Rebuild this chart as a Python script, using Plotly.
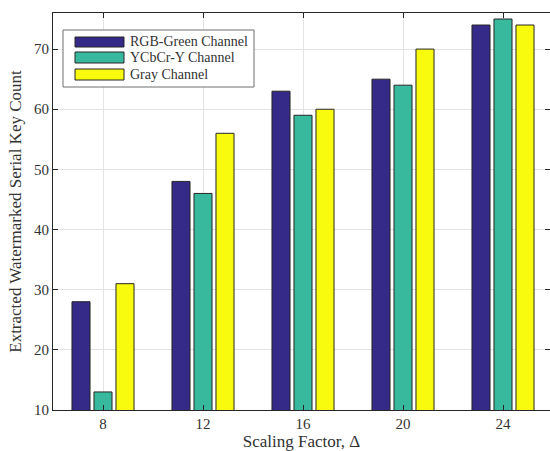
import plotly.graph_objects as go

# Data
scaling_factors = ["8", "12", "16", "20", "24"]
series_names = ["RGB-Green Channel", "YCbCr-Y Channel", "Gray Channel"]
rgb_green = [28, 48, 63, 65, 74]
ycbcr_y = [13, 46, 59, 64, 75]
gray = [31, 56, 60, 70, 74]
y_ticks = [10, 20, 30, 40, 50, 60, 70]

colors = ["#352a87", "#38b99e", "#f9fb0e"]
series_values = [rgb_green, ycbcr_y, gray]

W, H = 550, 451
L, R, T, B = 53, 0, 13, 41
FONT = "Liberation Serif"
TXT = "#333333"

fig = go.Figure()
for name, vals, col in zip(series_names, series_values, colors):
    fig.add_trace(go.Bar(
        x=scaling_factors, y=vals, name=name,
        marker=dict(color=col, line=dict(color="#262626", width=1)),
        showlegend=False,
    ))

# Legend box drawn in paper coordinates (wide swatches)
pw, ph = W - L - R, H - T - B
def px(x):
    return (x - L) / pw
def py(y):
    return 1 - (y - T) / ph

shapes = [dict(type="rect", xref="paper", yref="paper",
               x0=px(63), x1=px(254), y0=py(87), y1=py(30),
               line=dict(color="#6e6e6e", width=1), fillcolor="white", layer="above")]
annotations = []
rows = [(37, 47), (52, 63), (69, 80)]
for (y0, y1), name, col in zip(rows, series_names, colors):
    shapes.append(dict(type="rect", xref="paper", yref="paper",
                       x0=px(75), x1=px(124), y0=py(y1), y1=py(y0),
                       line=dict(color="#262626", width=1), fillcolor=col, layer="above"))
    annotations.append(dict(xref="paper", yref="paper", x=px(128), y=py((y0 + y1) / 2),
                            text=name, showarrow=False, xanchor="left", yanchor="middle",
                            font=dict(family=FONT, size=14, color=TXT)))

fig.update_layout(
    width=W, height=H,
    margin=dict(l=L, r=R, t=T, b=B, pad=0),
    paper_bgcolor="white", plot_bgcolor="white",
    barmode="group", bargap=0.34, bargroupgap=0.18,
    font=dict(family=FONT, size=14, color=TXT),
    shapes=shapes, annotations=annotations,
)
fig.update_xaxes(
    range=[-0.5, 4.47],
    showgrid=True, gridcolor="#e3e3e3", gridwidth=1,
    showline=True, linecolor="#262626", linewidth=1, mirror="ticks",
    ticks="inside", ticklen=5, tickcolor="#262626",
    tickfont=dict(family=FONT, size=15, color=TXT),
    title=dict(text="Scaling Factor, Δ", font=dict(family=FONT, size=17, color=TXT), standoff=2),
)
fig.update_yaxes(
    range=[10, 76], tickvals=y_ticks,
    showgrid=True, gridcolor="#e3e3e3", gridwidth=1, zeroline=False,
    showline=True, linecolor="#262626", linewidth=1, mirror="ticks",
    ticks="inside", ticklen=5, tickcolor="#262626",
    tickfont=dict(family=FONT, size=15, color=TXT),
    title=dict(text="Extracted Watermarked Serial Key Count",
               font=dict(family=FONT, size=17, color=TXT), standoff=8),
)

fig.write_html("out.html")
